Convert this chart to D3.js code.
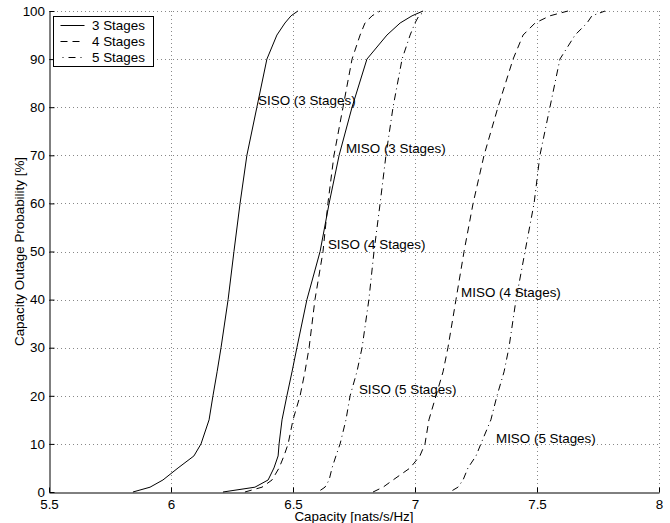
<!DOCTYPE html>
<html>
<head>
<meta charset="utf-8">
<script src="https://cdn.jsdelivr.net/npm/d3@7"></script>
<style>
  html, body { margin: 0; padding: 0; background: #fff; }
  svg { display: block; font-family: "Liberation Sans", Arial, Helvetica, sans-serif; }
</style>
</head>
<body>
<svg id="chart" width="670" height="523"></svg>
<script>
// Outage probability levels [%] shared by every CDF curve
const outageLevels = [0, 1, 2.5, 5, 7.5, 10, 15, 20, 25, 30, 40, 50, 60, 70, 80, 90, 95, 97.5, 99, 100];

// Capacity [nats/s/Hz] reached at each outage level
const siso3 = [5.844, 5.914, 5.967, 6.029, 6.094, 6.123, 6.156, 6.172, 6.189, 6.205, 6.234, 6.258, 6.283, 6.311, 6.352, 6.393, 6.434, 6.467, 6.492, 6.520];
const miso3 = [6.213, 6.344, 6.398, 6.422, 6.439, 6.443, 6.455, 6.475, 6.496, 6.516, 6.557, 6.611, 6.648, 6.689, 6.742, 6.803, 6.885, 6.939, 6.988, 7.033];
const siso4 = [6.303, 6.373, 6.414, 6.443, 6.463, 6.480, 6.500, 6.529, 6.549, 6.566, 6.590, 6.623, 6.643, 6.668, 6.705, 6.742, 6.775, 6.795, 6.824, 6.857];
const siso5 = [6.602, 6.631, 6.648, 6.660, 6.676, 6.693, 6.717, 6.734, 6.762, 6.783, 6.811, 6.832, 6.857, 6.881, 6.910, 6.947, 6.980, 7.000, 7.016, 7.041];
const miso4 = [6.828, 6.869, 6.910, 6.980, 7.020, 7.041, 7.057, 7.086, 7.115, 7.135, 7.168, 7.201, 7.238, 7.283, 7.340, 7.402, 7.443, 7.492, 7.553, 7.627];
const miso5 = [7.143, 7.176, 7.197, 7.217, 7.250, 7.270, 7.311, 7.336, 7.365, 7.385, 7.414, 7.451, 7.488, 7.512, 7.553, 7.594, 7.656, 7.705, 7.725, 7.779];

// Axis ticks
const xTicks = [5.5, 6, 6.5, 7, 7.5, 8];
const yTicks = [0, 10, 20, 30, 40, 50, 60, 70, 80, 90, 100];

// Legend entries (one per stage count)
const legendLabels = ["3 Stages", "4 Stages", "5 Stages"];

// Curve annotations: text, capacity, outage level
const annotationText = ["SISO (3 Stages)", "MISO (3 Stages)", "SISO (4 Stages)", "SISO (5 Stages)", "MISO (4 Stages)", "MISO (5 Stages)"];
const annotationX = [6.357, 6.717, 6.643, 6.770, 7.189, 7.332];
const annotationY = [81.5, 71.5, 51.4, 21.4, 41.6, 11.2];

// ---- drawing ----
const svg = d3.select("#chart");
const plotLeft = 49, plotRight = 659, plotTop = 11, plotBottom = 492;
const fontSize = 13.4;

const x = d3.scaleLinear().domain([5.5, 8]).range([plotLeft, plotRight]);
const y = d3.scaleLinear().domain([0, 100]).range([plotBottom, plotTop]);

// line styles per stage count
const stageStyles = [
  { dash: null, offset: 0 },
  { dash: "7,5", offset: 0 },
  { dash: "7,4,1,4", offset: 13 }
];

const curves = [
  { caps: siso3, stage: 0 },
  { caps: miso3, stage: 0 },
  { caps: siso4, stage: 1 },
  { caps: miso4, stage: 1 },
  { caps: siso5, stage: 2 },
  { caps: miso5, stage: 2 }
];

// dotted grid
const grid = svg.append("g").attr("stroke", "#888").attr("stroke-width", 1)
  .attr("stroke-dasharray", "1,3");
grid.selectAll("line.gx").data(xTicks.slice(1)).join("line")
  .attr("x1", d => Math.round(x(d)) + 0.5).attr("x2", d => Math.round(x(d)) + 0.5)
  .attr("y1", plotBottom).attr("y2", plotTop);
grid.selectAll("line.gy").data(yTicks.slice(1)).join("line")
  .attr("y1", d => Math.round(y(d)) + 0.5).attr("y2", d => Math.round(y(d)) + 0.5)
  .attr("x1", plotLeft).attr("x2", plotRight);

// axes with inward ticks
const xAxis = svg.append("g")
  .attr("transform", `translate(0,${plotBottom + 0.5})`)
  .call(d3.axisTop(x).tickValues(xTicks).tickFormat(d3.format("")).tickSizeOuter(0).tickSizeInner(5));
xAxis.select(".domain").attr("stroke", "#000");
xAxis.selectAll(".tick line").attr("stroke", "#000");
xAxis.selectAll(".tick text")
  .attr("y", 16).attr("dy", "0").attr("font-size", fontSize)
  .attr("fill", "#000");
xAxis.attr("font-family", null).attr("font-size", null);

const yAxis = svg.append("g")
  .attr("transform", `translate(${plotLeft + 0.5},0)`)
  .call(d3.axisRight(y).tickValues(yTicks).tickSizeOuter(0).tickSizeInner(5));
yAxis.select(".domain").attr("stroke", "#000");
yAxis.selectAll(".tick line").attr("stroke", "#000");
yAxis.selectAll(".tick text")
  .attr("x", -4.5).attr("text-anchor", "end").attr("font-size", fontSize)
  .attr("fill", "#000");
yAxis.attr("font-family", null).attr("font-size", null).attr("text-anchor", null);

// CDF curves
const line = d3.line()
  .x(d => x(d[0]))
  .y(d => y(d[1]));

svg.append("g").selectAll("path").data(curves).join("path")
  .attr("d", c => line(c.caps.map((v, i) => [v, outageLevels[i]])))
  .attr("fill", "none")
  .attr("stroke", "#000")
  .attr("stroke-width", 1)
  .attr("stroke-dasharray", c => stageStyles[c.stage].dash)
  .attr("stroke-dashoffset", c => stageStyles[c.stage].offset);

// curve annotations
svg.append("g").selectAll("text").data(annotationText).join("text")
  .attr("x", (d, i) => x(annotationX[i]))
  .attr("y", (d, i) => y(annotationY[i]))
  .attr("dy", "0.35em")
  .attr("font-size", fontSize)
  .text(d => d);

// axis titles
svg.append("text")
  .attr("x", (plotLeft + plotRight) / 2).attr("y", 521)
  .attr("text-anchor", "middle").attr("font-size", fontSize)
  .text("Capacity [nats/s/Hz]");
svg.append("text")
  .attr("transform", `translate(24,${(plotTop + plotBottom) / 2}) rotate(-90)`)
  .attr("text-anchor", "middle").attr("font-size", fontSize)
  .text("Capacity Outage Probability [%]");

// legend
const legend = svg.append("g").attr("transform", "translate(53.5,16.5)");
legend.append("rect").attr("width", 100).attr("height", 50)
  .attr("fill", "#fff").attr("stroke", "#000").attr("stroke-width", 1);
const rows = legend.selectAll("g.row").data(legendLabels).join("g")
  .attr("transform", (d, i) => `translate(0,${9 + i * 16})`);
rows.append("line")
  .attr("x1", 7).attr("x2", 31).attr("y1", 0).attr("y2", 0)
  .attr("stroke", "#000").attr("stroke-width", 1)
  .attr("stroke-dasharray", (d, i) => i === 2 ? "1,5,7,5" : stageStyles[i].dash)
  .attr("stroke-dashoffset", (d, i) => i === 2 ? -2 : 0);
rows.append("text")
  .attr("x", 38.5).attr("y", 0).attr("dy", "0.35em")
  .attr("font-size", fontSize)
  .text(d => d);
</script>
</body>
</html>
